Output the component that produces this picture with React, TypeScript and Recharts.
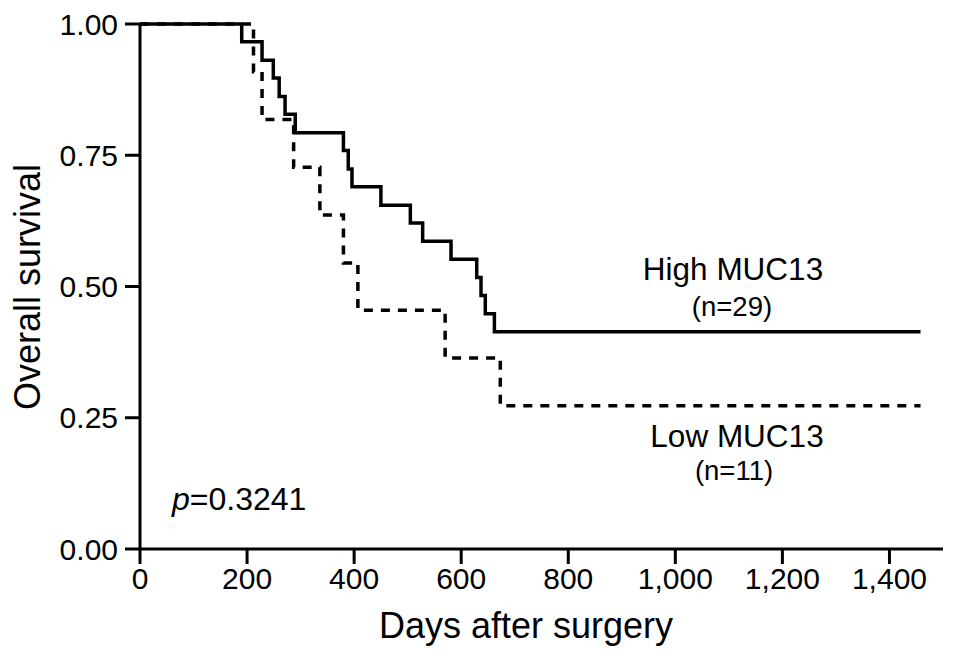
import React from 'react';
import { LineChart, Line, XAxis, YAxis } from 'recharts';

const FONT = '"Liberation Sans", Arial, Helvetica, sans-serif';

// High MUC13 (n=29) Kaplan–Meier steps
const highDays = [0, 190, 228, 249, 260, 271, 290, 380, 389, 396, 450, 505, 528, 581, 629, 637, 645, 662, 1458];
const highSurv = [1, 0.966, 0.931, 0.897, 0.862, 0.828, 0.793, 0.759, 0.724, 0.69, 0.655, 0.621, 0.586, 0.552, 0.517, 0.483, 0.448, 0.414, 0.414];

// Low MUC13 (n=11) Kaplan–Meier steps
const lowDays = [0, 212, 228, 287, 336, 380, 407, 570, 673, 1458];
const lowSurv = [1, 0.909, 0.818, 0.727, 0.636, 0.545, 0.455, 0.364, 0.273, 0.273];

const xTicks = [0, 200, 400, 600, 800, 1000, 1200, 1400];
const yTicks = [0, 0.25, 0.5, 0.75, 1];

const highData = highDays.map((d, i) => ({ day: d, survival: highSurv[i] }));
const lowData = lowDays.map((d, i) => ({ day: d, survival: lowSurv[i] }));

export default function App() {
  return (
    <div style={{ position: 'absolute', left: 0, top: 0, width: 957, height: 659, background: '#fff' }}>
      <LineChart width={957} height={659} margin={{ top: 24, right: 14, left: 0, bottom: 10 }}>
        <XAxis
          type="number"
          dataKey="day"
          domain={[0, 1500]}
          ticks={xTicks}
          interval={0}
          tickFormatter={(v: number) => v.toLocaleString('en-US')}
          height={100}
          axisLine={{ stroke: '#000', strokeWidth: 3 }}
          tickLine={{ stroke: '#000', strokeWidth: 3 }}
          tickSize={15}
          tickMargin={4}
          tick={{ fill: '#000', fontSize: 30, fontFamily: FONT }}
        />
        <YAxis
          type="number"
          dataKey="survival"
          domain={[0, 1]}
          ticks={yTicks}
          interval={0}
          tickFormatter={(v: number) => v.toFixed(2)}
          width={140}
          axisLine={{ stroke: '#000', strokeWidth: 3 }}
          tickLine={{ stroke: '#000', strokeWidth: 3 }}
          tickSize={15}
          tickMargin={7}
          tick={{ fill: '#000', fontSize: 30, fontFamily: FONT }}
        />
        <Line
          data={highData}
          dataKey="survival"
          type="stepAfter"
          stroke="#000"
          strokeWidth={3.5}
          dot={false}
          activeDot={false}
          isAnimationActive={false}
        />
        <Line
          data={lowData}
          dataKey="survival"
          type="stepAfter"
          stroke="#000"
          strokeWidth={3.5}
          strokeDasharray="9 8"
          dot={false}
          activeDot={false}
          isAnimationActive={false}
        />
      </LineChart>
      <svg
        width={957}
        height={659}
        style={{ position: 'absolute', left: 0, top: 0, pointerEvents: 'none' }}
        fontFamily={FONT}
        fill="#000"
      >
        <text x={526} y={638} fontSize={36} textAnchor="middle">Days after surgery</text>
        <text x={40} y={287} fontSize={36} textAnchor="middle" transform="rotate(-90 40 287)">Overall survival</text>
        <text x={733} y={280} fontSize={31.5} textAnchor="middle">High MUC13</text>
        <text x={732} y={316} fontSize={27.5} textAnchor="middle">(n=29)</text>
        <text x={737} y={447} fontSize={31.5} textAnchor="middle">Low MUC13</text>
        <text x={734} y={480} fontSize={27.5} textAnchor="middle">(n=11)</text>
        <text x={172} y={510} fontSize={32}>
          <tspan fontStyle="italic">p</tspan>
          <tspan>=0.3241</tspan>
        </text>
      </svg>
    </div>
  );
}
